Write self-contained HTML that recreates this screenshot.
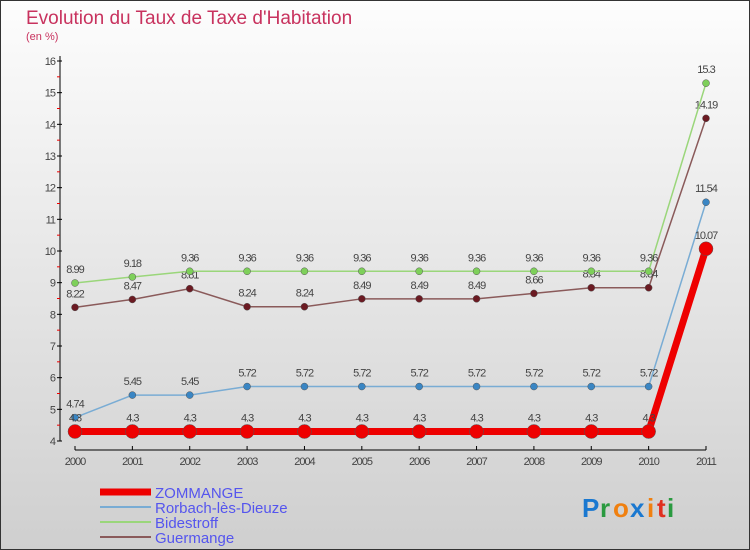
<!DOCTYPE html>
<html><head><meta charset="utf-8"><style>
body{margin:0}
#c{width:750px;height:550px;position:relative;overflow:hidden;box-sizing:border-box;border:1px solid #333;background:linear-gradient(#fdfdfd,#cfcfcf);font-family:"Liberation Sans",sans-serif}
</style></head><body>
<div id="c">
<svg id="s" width="750" height="550" style="position:absolute;left:-1px;top:-1px">
<text x="26" y="24" font-size="19" fill="#c8325e">Evolution du Taux de Taxe d'Habitation</text>
<text x="26" y="40" font-size="11" fill="#c8325e">(en %)</text>
</svg>
</div>
<script>
const years=["2000","2001","2002","2003","2004","2005","2006","2007","2008","2009","2010","2011"];
const yTicks=[4,5,6,7,8,9,10,11,12,13,14,15,16];
const zommange=[4.3,4.3,4.3,4.3,4.3,4.3,4.3,4.3,4.3,4.3,4.3,10.07];
const rorbach=[4.74,5.45,5.45,5.72,5.72,5.72,5.72,5.72,5.72,5.72,5.72,11.54];
const bidestroff=[8.99,9.18,9.36,9.36,9.36,9.36,9.36,9.36,9.36,9.36,9.36,15.3];
const guermange=[8.22,8.47,8.81,8.24,8.24,8.49,8.49,8.49,8.66,8.84,8.84,14.19];
const names=["ZOMMANGE","Rorbach-lès-Dieuze","Bidestroff","Guermange"];
const NS="http://www.w3.org/2000/svg",s=document.getElementById('s');
const X=i=>75+i*(706-75)/11, Y=v=>441-(v-4)*(380/12);
function el(t,a,txt){const e=document.createElementNS(NS,t);for(const k in a)e.setAttribute(k,a[k]);if(txt!==undefined)e.textContent=txt;s.appendChild(e);return e;}
let e=el('line',{x1:60,y1:56,x2:60,y2:441,stroke:'#000'});

e=el('line',{x1:75,y1:450,x2:706,y2:450,stroke:'#000'});

yTicks.forEach(v=>{el('line',{x1:57,x2:62,y1:Y(v),y2:Y(v),stroke:'#000'});
 if(v<16)el('line',{x1:57,x2:60,y1:Y(v+0.5),y2:Y(v+0.5),stroke:'#e00'});
 e=el('text',{x:55,y:Y(v)+4,'font-size':11,fill:'#444','text-anchor':'end','letter-spacing':'-1'},v);
 });
years.forEach((y,i)=>{el('line',{x1:X(i),x2:X(i),y1:446,y2:450,stroke:'#000'});
 e=el('text',{x:X(i),y:465,'font-size':11,fill:'#444','text-anchor':'middle','letter-spacing':'-1'},y);
 });
const series=[[guermange,'#6b1a22','#8a5a5a',1.5,3.5,'guermange'],[bidestroff,'#7ed05a','#9ad67a',1.5,3.5,'bidestroff'],[rorbach,'#3a86c4','#79acd4',1.5,3.5,'rorbach'],[zommange,'#ee0000','#ee0000',7,7,'zommange']];
series.forEach(([d,c,lc,w,r,n])=>{
 e=el('polyline',{points:d.map((v,i)=>X(i)+','+Y(v)).join(' '),fill:'none',stroke:lc,'stroke-width':w});
 
 d.forEach((v,i)=>{e=el('circle',{cx:X(i),cy:Y(v),r:r,fill:c,stroke:'#555','stroke-width':0.5});
  
  e=el('text',{x:X(i),y:Y(v)-10,'font-size':11,fill:'#444','text-anchor':'middle','letter-spacing':'-1'},v);
  });
});
const lg=[['#ee0000',7],['#79acd4',2],['#9ad67a',2],['#8a5a5a',2]];
names.forEach((n,i)=>{const y=492+i*15;
 e=el('line',{x1:100,x2:151,y1:y,y2:y,stroke:lg[i][0],'stroke-width':lg[i][1]});
 
 e=el('text',{x:155,y:y+6,'font-size':15,fill:'#5555ee'},n);
 });
const logo=[['P','#1a78d0'],['r','#2a9a40'],['o','#f08010'],['x','#1a78d0'],['i','#f08010'],['t','#e03020'],['i','#2a9a40']];
let lx=582;logo.forEach(([ch,c])=>{e=el('text',{x:lx,y:517,'font-size':26,'font-weight':'bold',fill:c},ch);
 lx+= (ch=='i'||ch=='t')?10:(ch=='r'?13:(ch=='P'?18:17));});
</script>
</body></html>
